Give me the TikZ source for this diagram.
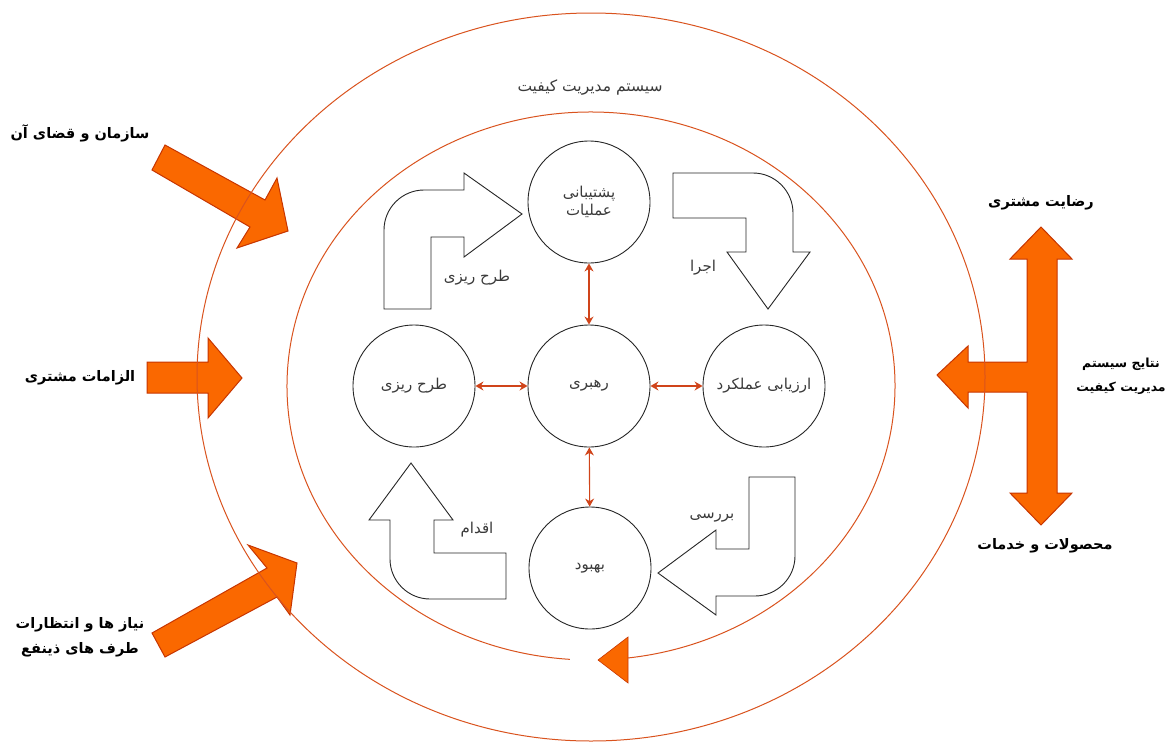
\documentclass[tikz,border=0pt]{standalone}
\usepackage{fontspec}
\usetikzlibrary{arrows.meta}
\TeXXeTstate=1
\newfontfamily\fafont[Script=Arabic]{DejaVu Sans}
\newcommand{\fatext}[1]{{\fafont\beginR #1\endR}}
\definecolor{orfill}{HTML}{FA6800}
\definecolor{orline}{HTML}{C73500}
\definecolor{ellcol}{HTML}{D9531E}
\definecolor{redarr}{HTML}{D0441A}
\definecolor{graytxt}{HTML}{3A3A3A}
\begin{document}
\begin{tikzpicture}[x=1pt,y=-1pt,
 bigarrow/.style={fill=orfill, draw=orline, line width=1pt, line join=miter},
 bentarrow/.style={fill=white, draw=black!85, line width=0.9pt, line join=miter},
 ring/.style={draw=ellcol, line width=1pt},
 stage/.style={circle, draw=black!85, line width=0.9pt, minimum size=122pt, inner sep=0pt, align=center, text=graytxt, font=\fontsize{15}{18}\selectfont},
 innerlbl/.style={text=graytxt, font=\fontsize{15}{18}\selectfont, inner sep=1pt},
 outerlbl/.style={text=black, font=\fontsize{14.5}{25}\selectfont\bfseries, inner sep=1pt, align=center},
 dbl/.style={draw=redarr, line width=1.1pt, {Stealth[length=8pt,width=9pt]}-{Stealth[length=8pt,width=9pt]}}
]
\useasboundingbox (0,0) rectangle (1167,742);

% big orange input arrows
\draw[bigarrow] (165,145) -- (265,200) -- (277,178) -- (288,231) -- (237,248) -- (250,227) -- (152,170) -- cycle;
\draw[bigarrow] (147,362) -- (208,362) -- (208,338) -- (242,378) -- (208,418) -- (208,393) -- (147,393) -- cycle;
\draw[bigarrow] (152,633) -- (267,568) -- (248,545) -- (297,563) -- (290,615) -- (277,597) -- (165,657) -- cycle;

% T-shaped output arrow
\draw[bigarrow] (1041,227) -- (1072,259) -- (1057,259) -- (1057,493) -- (1072,493) -- (1041,525) -- (1010,493) -- (1027,493) -- (1027,392) -- (968,392) -- (968,408) -- (937,375) -- (968,346) -- (968,362) -- (1027,362) -- (1027,259) -- (1010,259) -- cycle;

% ellipses
\draw[ring] (591,377) ellipse [x radius=394, y radius=364];
\draw[ring] (591,386) ++(94:304 and 274) arc[start angle=94, end angle=443, x radius=304, y radius=274];
\draw[fill=orfill, draw=orline, line width=0.6pt] (628,637) -- (598,660) -- (628,683) -- cycle;

\node[text=graytxt, font=\fontsize{15.5}{18}\selectfont] (title) at (590,88) {\fatext{سیستم مدیریت کیفیت}};

% bent white arrows
\draw[bentarrow] (384,309) -- (384,230) .. controls (384,208) and (402,190) .. (424,190) -- (464,190) -- (464,173) -- (522,214) -- (464,257) -- (464,237) -- (431,237) -- (431,309) -- cycle;
\draw[bentarrow] (673,173) -- (753,173) .. controls (775,173) and (793,191) .. (793,213) -- (793,252) -- (810,252) -- (768,309) -- (727,252) -- (746,252) -- (746,218) -- (673,218) -- cycle;
\draw[bentarrow] (749,477) -- (795,477) -- (795,556) .. controls (795,578) and (777,596) .. (755,596) -- (716,596) -- (716,615) -- (658,573) -- (716,530) -- (716,549) -- (749,549) -- cycle;
\draw[bentarrow] (411,463) -- (453,520) -- (434,520) -- (434,553) -- (506,553) -- (506,599) -- (430,599) .. controls (408,599) and (390,581) .. (390,559) -- (390,520) -- (369,520) -- cycle;

% stage circles
\node[stage] (sup) at (589,202) {\fatext{پشتیبانی}\\\fatext{عملیات}};
\node[stage] (lead) at (589,386) {\fatext{رهبری}};
\node[stage] (plan) at (414,386) {\fatext{طرح ریزی}};
\node[stage] (eval) at (764,386) {\fatext{ارزیابی عملکرد}};
\node[stage] (impr) at (590,568) {\fatext{بهبود}};

\draw[dbl] (sup) -- (lead);
\draw[dbl] (plan) -- (lead);
\draw[dbl] (lead) -- (eval);
\draw[dbl] (lead) -- (impr);

% inner labels
\node[innerlbl] (lplan) at (477,278) {\fatext{طرح ریزی}};
\node[innerlbl] (ldo) at (703,268) {\fatext{اجرا}};
\node[innerlbl] (lcheck) at (712,518) {\fatext{بررسی}};
\node[innerlbl] (lact) at (477,530) {\fatext{اقدام}};

% outer labels
\node[outerlbl] (org) at (80,133) {\fatext{سازمان و قضای آن}};
\node[outerlbl] (req) at (80,378) {\fatext{الزامات مشتری}};
\node[outerlbl] (need) at (80,637) {\fatext{نیاز ها و انتظارات}\\\fatext{طرف های ذینفع}};
\node[outerlbl] (sat) at (1041,203) {\fatext{رضایت مشتری}};
\node[outerlbl, font=\fontsize{12.5}{24}\selectfont\bfseries] (res) at (1121,376) {\fatext{نتایج سیستم}\\\fatext{مدیریت کیفیت}};
\node[outerlbl] (prod) at (1045,546) {\fatext{محصولات و خدمات}};
\end{tikzpicture}
\end{document}
